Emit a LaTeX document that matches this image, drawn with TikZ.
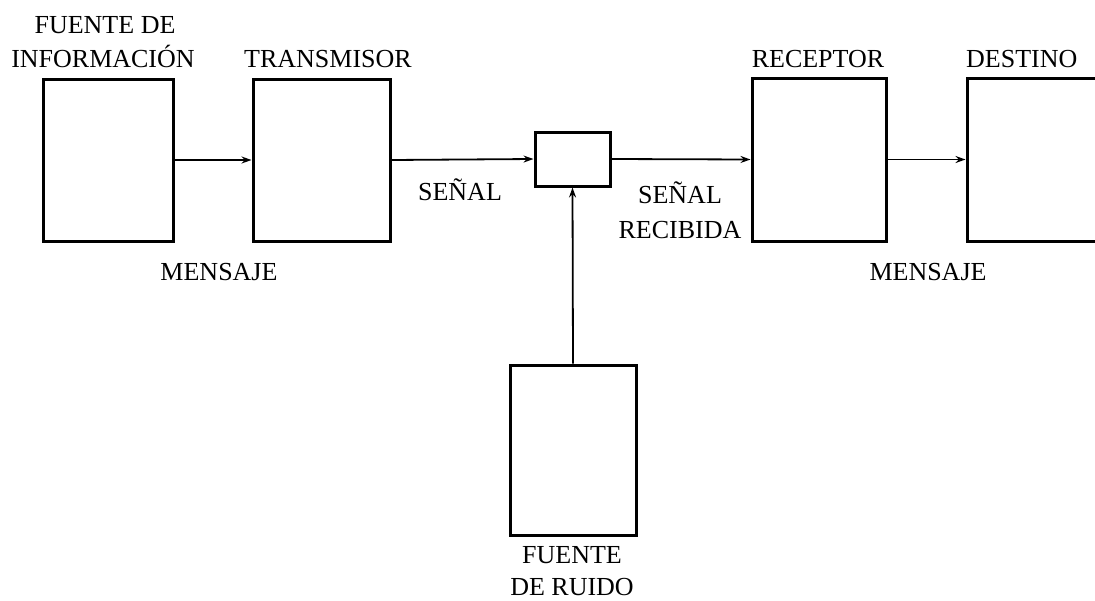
\documentclass[tikz,border=0pt]{standalone}
\usepackage{fontspec}
\setmainfont{Liberation Serif}
\usetikzlibrary{arrows.meta}
\begin{document}
\begin{tikzpicture}[x=1pt,y=-1pt,
  blk/.style={draw, line width=3pt, inner sep=0pt, minimum width=#1},
  lbl/.style={font=\fontsize{26}{34}\selectfont, inner sep=0pt, align=center, anchor=base},
  conn/.style={line width=1.8pt, -{Stealth[length=10pt,width=7pt]}}]
\clip (0,0) rectangle (1095,600);
\fill[white] (0,0) rectangle (1095,600);
\node[blk=130pt, minimum height=162pt] (fi) at (108,160) {};
\node[blk=137pt, minimum height=162pt] (tx) at (321.5,160) {};
\node[blk=75pt, minimum height=54pt] (sum) at (572.5,159) {};
\node[blk=134pt, minimum height=163pt] (rx) at (819,159.5) {};
\node[blk=150pt, minimum height=163pt] (dst) at (1042,159.5) {};
\node[blk=126pt, minimum height=170pt] (nz) at (573,450) {};
\draw[conn] (fi.east) -- (tx.west);
\draw[conn] (tx.east) -- (sum.west);
\draw[conn] (sum.east) -- (rx.west);
\draw[conn] (rx.east) -- (dst.west);
\draw[conn] (nz.north) -- (sum.south);
\node[lbl] (tfi1) at (105,33) {FUENTE DE};
\node[lbl] (tfi2) at (103,67) {INFORMACIÓN};
\node[lbl] (ttx) at (328,67) {TRANSMISOR};
\node[lbl] (trx) at (818,67) {RECEPTOR};
\node[lbl, anchor=base west] (tdst) at (966,67) {DESTINO};
\node[lbl] (tsen) at (460,200) {SEÑAL};
\node[lbl] (trec1) at (680,203) {SEÑAL};
\node[lbl] (trec2) at (680,238) {RECIBIDA};
\node[lbl] (tm1) at (219,280) {MENSAJE};
\node[lbl] (tm2) at (928,280) {MENSAJE};
\node[lbl] (tnz1) at (572,563) {FUENTE};
\node[lbl] (tnz2) at (572,595) {DE RUIDO};
\end{tikzpicture}
\end{document}
